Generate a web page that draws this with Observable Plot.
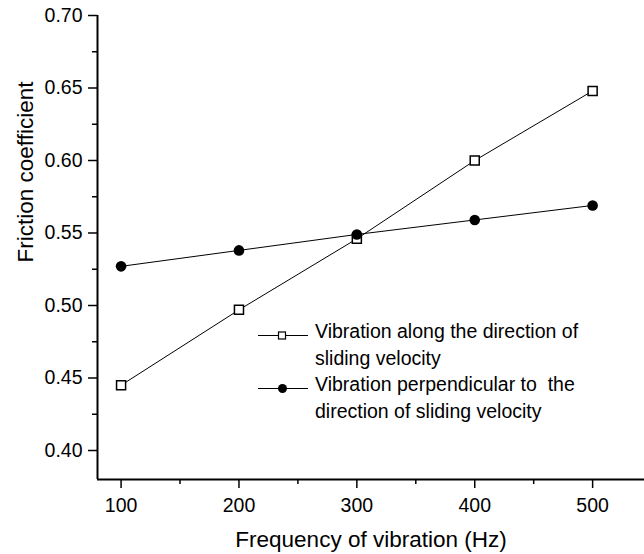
<!DOCTYPE html>
<html><head><meta charset="utf-8">
<script src="https://cdn.jsdelivr.net/npm/d3@7"></script>
<script src="https://cdn.jsdelivr.net/npm/@observablehq/plot@0.6"></script>
<style>
body{margin:0;background:#fff;}
#wrap{position:relative;width:644px;height:554px;font-family:"Liberation Sans",Arial,sans-serif;}
#legend{position:absolute;left:258px;top:318px;font-size:19.5px;line-height:26.5px;color:#000;}
.row{display:flex;align-items:flex-start;}
.key{width:57px;height:26.5px;flex:none;}
.lbl{white-space:nowrap;}
</style></head><body><div id="wrap"><div id="legend"></div></div>
<script>
const frequencies = [100, 200, 300, 400, 500];
const alongValues = [0.445, 0.497, 0.546, 0.600, 0.648];
const perpValues = [0.527, 0.538, 0.549, 0.559, 0.569];
const seriesLabels = [
  ["Vibration along the direction of", "sliding velocity"],
  ["Vibration perpendicular to  the", "direction of sliding velocity"]
];
const xMajorTicks = [100, 200, 300, 400, 500];
const xMinorTicks = [150, 250, 350, 450];
const yMajorTicks = [0.40, 0.45, 0.50, 0.55, 0.60, 0.65, 0.70];
const yMinorTicks = [0.425, 0.475, 0.525, 0.575, 0.625, 0.675];
const xTitle = "Frequency of vibration (Hz)";
const yTitle = "Friction coefficient";

const along = frequencies.map((f, i) => ({f, v: alongValues[i]}));
const perp = frequencies.map((f, i) => ({f, v: perpValues[i]}));

const chart = Plot.plot({
  width: 644, height: 554,
  marginLeft: 97, marginRight: 0, marginTop: 15, marginBottom: 75,
  style: {fontFamily: '"Liberation Sans", Arial, sans-serif', fontSize: "19.5px", color: "#000", background: "#fff"},
  x: {domain: [80, 544]},
  y: {domain: [0.38, 0.70]},
  marks: [
    Plot.axisX(xMinorTicks, {tickSize: 5, strokeWidth: 1.5, text: null, label: null}),
    Plot.axisX(xMajorTicks, {tickSize: 9, strokeWidth: 1.5, tickPadding: 10, tickFormat: d3.format("d"), fontSize: 19.5, label: null}),
    Plot.axisY(yMinorTicks, {tickSize: 5, strokeWidth: 1.5, text: null, label: null}),
    Plot.axisY(yMajorTicks, {tickSize: 9, strokeWidth: 1.5, tickPadding: 6, tickFormat: d3.format(".2f"), fontSize: 19.5, label: null}),
    Plot.text([xTitle], {frameAnchor: "bottom", lineAnchor: "middle", dy: 60, fontSize: 22.5, text: d => d}),
    Plot.text([yTitle], {frameAnchor: "left", lineAnchor: "middle", dx: -72, dy: 15, rotate: -90, fontSize: 22.5, text: d => d}),
    Plot.ruleY([0.38], {strokeWidth: 2}),
    Plot.ruleX([80], {strokeWidth: 2}),
    Plot.line(along, {x: "f", y: "v", stroke: "#000", strokeWidth: 1}),
    Plot.dot(along, {x: "f", y: "v", symbol: "square", r: 5.1, fill: "#fff", stroke: "#000", strokeWidth: 1.5}),
    Plot.line(perp, {x: "f", y: "v", stroke: "#000", strokeWidth: 1}),
    Plot.dot(perp, {x: "f", y: "v", symbol: "circle", r: 5.3, fill: "#000", stroke: "#000", strokeWidth: 0})
  ]
});
const wrap = document.getElementById("wrap");
wrap.insertBefore(chart, wrap.firstChild);

const legend = document.getElementById("legend");
const keys = [
  '<svg class="key" width="57" height="26.5"><line x1="0" x2="50" y1="17.5" y2="17.5" stroke="#000" stroke-width="1"/><rect x="20.5" y="14" width="7" height="7" fill="#fff" stroke="#000" stroke-width="1.2"/></svg>',
  '<svg class="key" width="57" height="26.5"><line x1="0" x2="50" y1="17.5" y2="17.5" stroke="#000" stroke-width="1"/><circle cx="24.5" cy="17.5" r="4.5" fill="#000"/></svg>'
];
seriesLabels.forEach((lines, i) => {
  const row = document.createElement("div");
  row.className = "row";
  row.innerHTML = keys[i] + '<div class="lbl">' + lines.map(s => s.replace(/ {2}/g, " \u00a0")).join("<br>") + '</div>';
  legend.appendChild(row);
});
</script></body></html>
